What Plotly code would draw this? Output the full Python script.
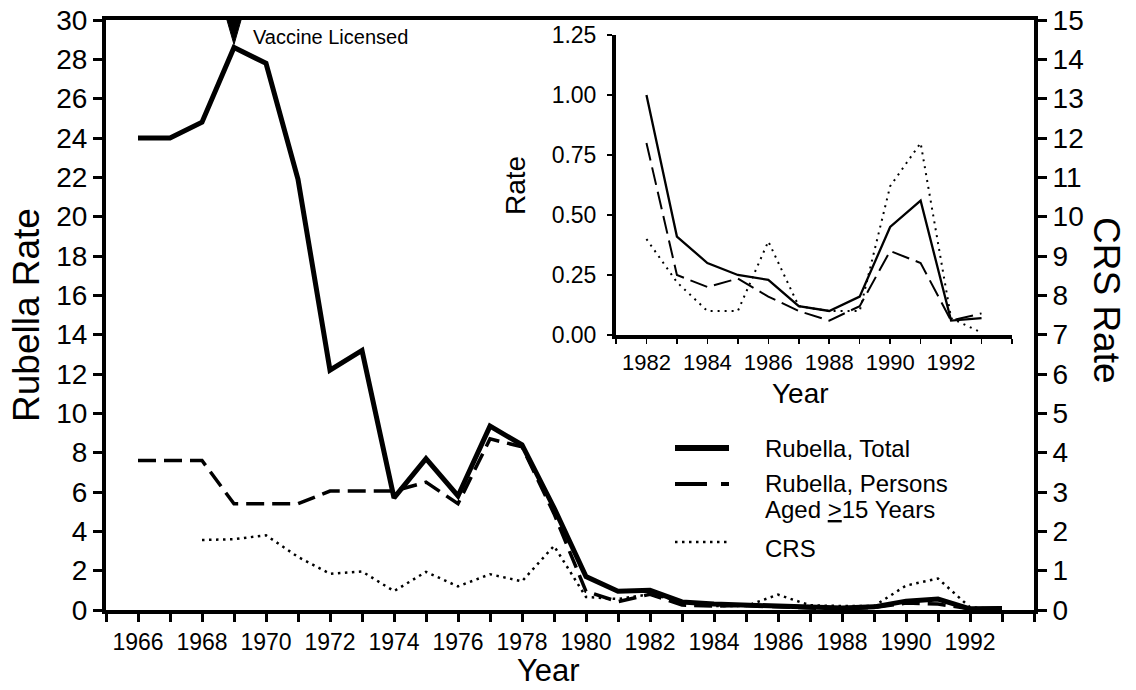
import plotly.graph_objects as go

# ---------------- data ----------------
years_main = list(range(1966, 1994))
rubella_total = [24.0, 24.0, 24.8, 28.6, 27.8, 21.9, 12.2, 13.2, 5.7, 7.7, 5.8, 9.35, 8.4, 5.2,
                 1.7, 0.95, 1.0, 0.41, 0.30, 0.25, 0.23, 0.12, 0.10, 0.16, 0.45, 0.56, 0.06, 0.07]
rubella_15plus = [7.6, 7.6, 7.6, 5.4, 5.4, 5.4, 6.05, 6.05, 6.05, 6.5, 5.4, 8.7, 8.3, 4.9,
                  0.95, 0.42, 0.80, 0.25, 0.20, 0.235, 0.16, 0.10, 0.06, 0.12, 0.35, 0.30, 0.06, 0.09]
years_crs = list(range(1968, 1994))
crs_rate = [1.78, 1.80, 1.90, 1.35, 0.92, 0.98, 0.48, 0.97, 0.60, 0.91, 0.73, 1.63,
            0.33, 0.28, 0.40, 0.22, 0.10, 0.10, 0.39, 0.12, 0.10, 0.10, 0.62, 0.80, 0.07, 0.01]

years_inset = list(range(1982, 1994))
inset_total = [1.00, 0.41, 0.30, 0.25, 0.23, 0.12, 0.10, 0.16, 0.45, 0.56, 0.06, 0.07]
inset_15plus = [0.80, 0.25, 0.20, 0.235, 0.16, 0.10, 0.06, 0.12, 0.35, 0.30, 0.06, 0.09]
inset_crs = [0.40, 0.22, 0.10, 0.10, 0.39, 0.12, 0.10, 0.10, 0.62, 0.80, 0.07, 0.01]

vaccine_year = 1969
vaccine_label = "Vaccine Licensed"

main_xticks = list(range(1965, 1995))
main_xlabels = [str(y) if (y % 2 == 0 and y <= 1992) else "" for y in main_xticks]
inset_xticks = list(range(1981, 1995))
inset_xlabels = [str(y) if (y % 2 == 0 and y <= 1992) else "" for y in inset_xticks]
left_ticks = list(range(0, 31, 2))
right_ticks = list(range(0, 16))
inset_yticks = [0, 0.25, 0.5, 0.75, 1.0, 1.25]
inset_ylabels = ["0.00", "0.25", "0.50", "0.75", "1.00", "1.25"]

legend_labels = ["Rubella, Total", "Rubella, Persons", "Aged <u>&gt;</u>15 Years", "CRS"]

# ---------------- layout helpers ----------------
W, H = 1136, 690
# plot area in screen pixels
PL, PR, PT, PB = 106, 1034, 20, 610
FONT = "Liberation Sans, Arial, sans-serif"


def px(x):
    return (x - PL) / (PR - PL)


def py(y):
    return (PB - y) / (PB - PT)


fig = go.Figure()

# main chart
fig.add_trace(go.Scatter(x=years_main, y=rubella_total, mode="lines",
                         line=dict(color="black", width=5), xaxis="x", yaxis="y",
                         showlegend=False))
fig.add_trace(go.Scatter(x=years_main, y=rubella_15plus, mode="lines",
                         line=dict(color="black", width=3.5, dash="18px,8px"),
                         xaxis="x", yaxis="y", showlegend=False))
fig.add_trace(go.Scatter(x=years_crs, y=crs_rate, mode="lines",
                         line=dict(color="black", width=2.5, dash="2.5px,4.5px"),
                         xaxis="x", yaxis="y2", showlegend=False))

# inset
fig.add_trace(go.Scatter(x=years_inset, y=inset_total, mode="lines",
                         line=dict(color="black", width=2.3), xaxis="x3", yaxis="y3",
                         showlegend=False))
fig.add_trace(go.Scatter(x=years_inset, y=inset_15plus, mode="lines",
                         line=dict(color="black", width=2, dash="18px,7px"),
                         xaxis="x3", yaxis="y3", showlegend=False))
fig.add_trace(go.Scatter(x=years_inset, y=inset_crs, mode="lines",
                         line=dict(color="black", width=2, dash="2px,5px"),
                         xaxis="x3", yaxis="y3", showlegend=False))

axis_common = dict(showgrid=False, zeroline=False, showline=True, linecolor="black",
                   ticks="outside", tickcolor="black", fixedrange=True, automargin=False,
                   ticklabeloverflow="allow")

fig.update_layout(
    template="none",
    width=W, height=H,
    margin=dict(l=PL, r=W - PR, t=PT, b=H - PB, pad=0, autoexpand=False),
    paper_bgcolor="white", plot_bgcolor="white",
    font=dict(family=FONT, color="black"),
    showlegend=False,
    hovermode=False,
    xaxis=dict(axis_common, range=[1965, 1994], linewidth=4, mirror=True,
               tickvals=main_xticks, ticktext=main_xlabels, ticklen=8, tickwidth=3,
               tickfont=dict(size=23)),
    yaxis=dict(axis_common, range=[0, 30], linewidth=4, tickvals=left_ticks,
               ticklen=9, tickwidth=3, tickfont=dict(size=28)),
    yaxis2=dict(axis_common, range=[0, 15], overlaying="y", side="right", linewidth=4,
                tickvals=right_ticks, ticklen=9, tickwidth=3, tickfont=dict(size=28)),
    xaxis3=dict(axis_common, range=[1981, 1994], domain=[px(616), px(1012)], anchor="y3",
                linewidth=4, tickvals=inset_xticks, ticktext=inset_xlabels, ticklen=5,
                tickwidth=1.5, tickfont=dict(size=22)),
    yaxis3=dict(axis_common, range=[0, 1.25], domain=[py(335), py(35)], anchor="x3",
                linewidth=4, tickvals=inset_yticks, ticktext=inset_ylabels, ticklen=5,
                tickwidth=1.5, tickfont=dict(size=23), ticklabelstandoff=6),
)

annotations = [
    dict(text="Rubella Rate", x=px(26), y=py(315), textangle=-90, font=dict(size=37)),
    dict(text="CRS Rate", x=px(1107), y=py(300), textangle=90, font=dict(size=37)),
    dict(text="Year", x=px(548), y=py(690), yanchor="bottom", font=dict(size=31)),
    dict(text="Rate", x=px(515), y=py(186), textangle=-90, font=dict(size=28)),
    dict(text="Year", x=px(800), y=py(393), font=dict(size=28)),
    dict(text=vaccine_label, x=px(251), y=py(37), xanchor="left", font=dict(size=20)),
    dict(text=legend_labels[0], x=px(763), y=py(448), xanchor="left", font=dict(size=24)),
    dict(text=legend_labels[1], x=px(763), y=py(483), xanchor="left", font=dict(size=24)),
    dict(text=legend_labels[2], x=px(763), y=py(509), xanchor="left", font=dict(size=24)),
    dict(text=legend_labels[3], x=px(763), y=py(548), xanchor="left", font=dict(size=24)),
]
for a in annotations:
    a.setdefault("xanchor", "center")
    a.setdefault("yanchor", "middle")
    a.update(xref="paper", yref="paper", showarrow=False)
    a["font"]["family"] = FONT
    a["font"]["color"] = "black"
fig.update_layout(annotations=annotations)

shapes = [
    # vaccine licensed marker (triangle)
    dict(type="path", xref="x", yref="y",
         path=f"M {vaccine_year - 0.22},30 L {vaccine_year + 0.22},30 L {vaccine_year},28.75 Z",
         fillcolor="black", line=dict(color="black", width=1)),
    # legend samples
    dict(type="line", xref="paper", yref="paper", x0=px(675), x1=px(729), y0=py(448), y1=py(448),
         line=dict(color="black", width=6)),
    dict(type="line", xref="paper", yref="paper", x0=px(675), x1=px(729), y0=py(484), y1=py(484),
         line=dict(color="black", width=4, dash="32px,14px")),
    dict(type="line", xref="paper", yref="paper", x0=px(675), x1=px(729), y0=py(542), y1=py(542),
         line=dict(color="black", width=2.5, dash="2.5px,4.5px")),
]
fig.update_layout(shapes=shapes)

# remove the browser's default page margin so the figure sits at the window's corner
fig.write_html("out.html",
               config={"displayModeBar": False, "staticPlot": True},
               post_script="document.body.style.margin='0';document.body.style.overflow='hidden';")
